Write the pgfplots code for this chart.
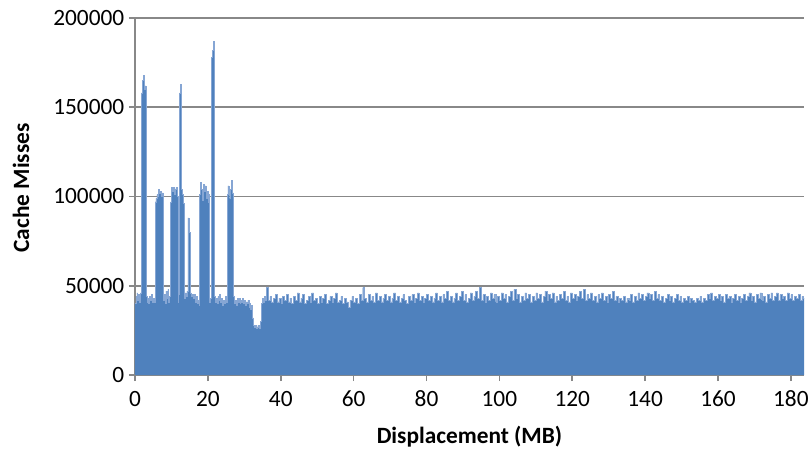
\documentclass[border=0pt]{standalone}
\usepackage{pgfplots}
\usepackage{pgfplotstable}
\pgfplotsset{compat=1.18}
\usepackage{fontspec}
\setmainfont{Carlito}
\definecolor{barblue}{HTML}{4F81BD}
\definecolor{fringe}{HTML}{86A6D4}
\definecolor{gridgray}{HTML}{888888}

% cache misses per displacement step (0.25 MB steps up to 36 MB, then 0.5 MB)
\pgfplotstableread{
x y
0.00 40000
0.25 44000
0.50 46000
0.75 42000
1.00 45000
1.25 41000
1.50 46000
1.75 158000
2.00 165000
2.25 168000
2.50 160000
2.75 162000
3.00 44000
3.25 41000
3.50 43000
3.75 40000
4.00 44000
4.25 42000
4.50 45000
4.75 41000
5.00 43000
5.25 41000
5.50 97000
5.75 99000
6.00 101000
6.25 100000
6.50 104000
6.75 102000
7.00 103000
7.25 100000
7.50 102000
7.75 42000
8.00 45000
8.25 40000
8.50 47000
8.75 43000
9.00 48000
9.25 41000
9.50 44000
9.75 97000
10.00 105000
10.25 103000
10.50 105000
10.75 101000
11.00 104000
11.25 105000
11.50 100000
11.75 41000
12.00 45000
12.25 158000
12.50 163000
12.75 104000
13.00 101000
13.25 96000
13.50 43000
13.75 46000
14.00 44000
14.25 47000
14.50 88000
14.75 84000
15.00 80000
15.25 46000
15.50 44000
15.75 45000
16.00 43000
16.25 45000
16.50 41000
16.75 44000
17.00 40000
17.25 42000
17.50 39000
17.75 101000
18.00 108000
18.25 104000
18.50 98000
18.75 107000
19.00 103000
19.25 106000
19.50 99000
19.75 103000
20.00 97000
20.25 101000
20.50 41000
20.75 43000
21.00 178000
21.25 182000
21.50 187000
21.75 44000
22.00 41000
22.25 43000
22.50 40000
22.75 44000
23.00 42000
23.25 45000
23.50 41000
23.75 43000
24.00 39000
24.25 42000
24.50 40000
24.75 44000
25.00 41000
25.25 101000
25.50 106000
25.75 103000
26.00 99000
26.25 104000
26.50 109000
26.75 102000
27.00 44000
27.25 40000
27.50 42000
27.75 39000
28.00 43000
28.25 41000
28.50 43000
28.75 40000
29.00 42000
29.25 41000
29.50 43000
29.75 40000
30.00 42000
30.25 39000
30.50 41000
30.75 40000
31.00 42000
31.25 38000
31.50 40000
31.75 37000
32.00 39000
32.25 32000
32.50 28000
32.75 27000
33.00 28000
33.25 26000
33.50 27000
33.75 28000
34.00 26000
34.25 27000
34.50 30000
34.75 40000
35.00 43000
35.25 41000
35.50 44000
35.75 42000
36.0 49000
36.5 42000
37.0 44000
37.5 41000
38.0 43000
38.5 45000
39.0 41000
39.5 43000
40.0 40000
40.5 44000
41.0 42000
41.5 45000
42.0 41000
42.5 43000
43.0 40000
43.5 44000
44.0 42000
44.5 46000
45.0 41000
45.5 43000
46.0 45000
46.5 40000
47.0 42000
47.5 44000
48.0 41000
48.5 46000
49.0 42000
49.5 43000
50.0 40000
50.5 44000
51.0 41000
51.5 43000
52.0 45000
52.5 40000
53.0 42000
53.5 44000
54.0 41000
54.5 43000
55.0 46000
55.5 41000
56.0 42000
56.5 44000
57.0 40000
57.5 43000
58.0 41000
58.5 38000
59.0 42000
59.5 44000
60.0 41000
60.5 43000
61.0 40000
61.5 45000
62.0 42000
62.5 49000
63.0 43000
63.5 41000
64.0 45000
64.5 42000
65.0 44000
65.5 41000
66.0 46000
66.5 42000
67.0 44000
67.5 41000
68.0 43000
68.5 45000
69.0 42000
69.5 44000
70.0 41000
70.5 43000
71.0 46000
71.5 42000
72.0 44000
72.5 41000
73.0 43000
73.5 45000
74.0 42000
74.5 40000
75.0 44000
75.5 42000
76.0 45000
76.5 41000
77.0 43000
77.5 46000
78.0 42000
78.5 44000
79.0 41000
79.5 43000
80.0 45000
80.5 42000
81.0 44000
81.5 41000
82.0 43000
82.5 46000
83.0 42000
83.5 44000
84.0 41000
84.5 45000
85.0 43000
85.5 47000
86.0 42000
86.5 44000
87.0 41000
87.5 43000
88.0 46000
88.5 42000
89.0 44000
89.5 47000
90.0 42000
90.5 45000
91.0 41000
91.5 43000
92.0 46000
92.5 42000
93.0 44000
93.5 47000
94.0 43000
94.5 49000
95.0 42000
95.5 45000
96.0 41000
96.5 44000
97.0 42000
97.5 46000
98.0 43000
98.5 45000
99.0 41000
99.5 44000
100.0 42000
100.5 46000
101.0 43000
101.5 45000
102.0 41000
102.5 44000
103.0 47000
103.5 42000
104.0 48000
104.5 43000
105.0 45000
105.5 41000
106.0 44000
106.5 42000
107.0 46000
107.5 43000
108.0 45000
108.5 41000
109.0 44000
109.5 42000
110.0 46000
110.5 43000
111.0 45000
111.5 41000
112.0 44000
112.5 47000
113.0 42000
113.5 45000
114.0 43000
114.5 46000
115.0 41000
115.5 44000
116.0 42000
116.5 45000
117.0 43000
117.5 47000
118.0 42000
118.5 44000
119.0 41000
119.5 46000
120.0 43000
120.5 45000
121.0 42000
121.5 44000
122.0 47000
122.5 43000
123.0 48000
123.5 42000
124.0 45000
124.5 43000
125.0 46000
125.5 42000
126.0 44000
126.5 41000
127.0 45000
127.5 43000
128.0 46000
128.5 42000
129.0 44000
129.5 41000
130.0 45000
130.5 43000
131.0 47000
131.5 42000
132.0 44000
132.5 41000
133.0 43000
133.5 42000
134.0 44000
134.5 41000
135.0 43000
135.5 42000
136.0 45000
136.5 41000
137.0 44000
137.5 42000
138.0 46000
138.5 43000
139.0 45000
139.5 42000
140.0 44000
140.5 46000
141.0 43000
141.5 45000
142.0 42000
142.5 47000
143.0 43000
143.5 45000
144.0 42000
144.5 44000
145.0 41000
145.5 43000
146.0 45000
146.5 42000
147.0 44000
147.5 41000
148.0 43000
148.5 45000
149.0 42000
149.5 44000
150.0 41000
150.5 43000
151.0 42000
151.5 44000
152.0 41000
152.5 43000
153.0 42000
153.5 41000
154.0 43000
154.5 42000
155.0 44000
155.5 41000
156.0 43000
156.5 42000
157.0 45000
157.5 43000
158.0 46000
158.5 42000
159.0 44000
159.5 43000
160.0 45000
160.5 42000
161.0 44000
161.5 41000
162.0 45000
162.5 43000
163.0 44000
163.5 41000
164.0 43000
164.5 45000
165.0 42000
165.5 44000
166.0 41000
166.5 43000
167.0 45000
167.5 42000
168.0 44000
168.5 46000
169.0 42000
169.5 44000
170.0 41000
170.5 45000
171.0 43000
171.5 46000
172.0 42000
172.5 44000
173.0 41000
173.5 45000
174.0 43000
174.5 46000
175.0 42000
175.5 44000
176.0 46000
176.5 42000
177.0 45000
177.5 43000
178.0 44000
178.5 42000
179.0 46000
179.5 43000
180.0 45000
180.5 42000
181.0 44000
181.5 43000
182.0 45000
182.5 42000
183.0 44000
183.5 43000
183.7 43000
}\misses

\begin{document}
\begin{tikzpicture}
\begin{axis}[
    at={(0,0)}, anchor=origin,
    scale only axis,
    width=501.75pt, height=267.75pt,
    xmin=0, xmax=183.6,
    ymin=0, ymax=200000,
    xtick={0,20,...,180},
    ytick={0,50000,...,200000},
    scaled y ticks=false,
    /pgf/number format/fixed,
    /pgf/number format/precision=0,
    /pgf/number format/1000 sep={},
    /pgf/number format/assume math mode=true,
    axis lines=left,
    axis line style={-, gridgray, line width=1.4pt},
    tick align=outside,
    major tick length=4.5pt,
    tick style={gridgray, line width=1.2pt},
    ymajorgrids,
    grid style={gridgray, line width=1.4pt},
    tick label style={font=\fontsize{17.5}{19}\selectfont},
    xticklabel shift=4pt,
    label style={font=\fontsize{17.5}{20}\selectfont\bfseries},
    xlabel={Displacement (MB)},
    ylabel={Cache Misses},
    xlabel style={at={(axis description cs:0.5,-0.1737)}, anchor=center},
    ylabel style={at={(axis description cs:-0.1704,0.524)}, anchor=center},
    clip=true,
]
\addplot[const plot, fill=barblue, draw=none] table {\misses} \closedcycle;
\addplot[const plot, draw=fringe, line width=0.35pt] table {\misses};
\end{axis}
\pgfresetboundingbox
\path[use as bounding box] (-101.25pt,-60.75pt) rectangle (505.5pt,281.25pt);
\end{tikzpicture}
\end{document}
